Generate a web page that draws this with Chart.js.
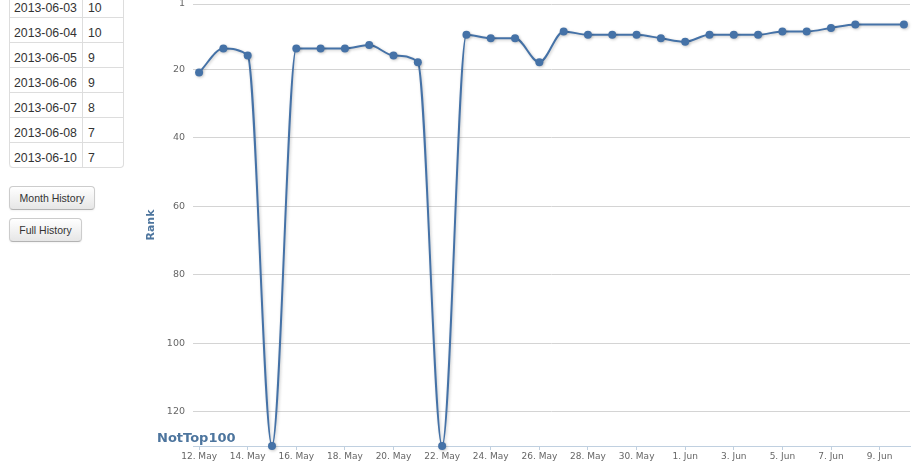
<!DOCTYPE html>
<html>
<head>
<meta charset="utf-8">
<title>Rank History</title>
<script src="https://cdn.jsdelivr.net/npm/chart.js@4.4.1/dist/chart.umd.min.js"></script>
<style>
    html, body { margin: 0; padding: 0; background: #fff; overflow: hidden; }
    body { position: relative; width: 921px; height: 467px; font-family: "Liberation Sans", Arial, sans-serif; color: #333; }

    #historyTable {
        position: absolute; left: 9px; top: -8px;
        border-collapse: separate; border-spacing: 0;
        border: 1px solid #ddd; border-left: 0; border-radius: 0 0 4px 4px;
        font-size: 12.3px;
    }
    #historyTable td {
        border-left: 1px solid #ddd; border-top: 1px solid #ddd;
        padding: 7px 5px 1px 5px; line-height: 16px; white-space: nowrap;
    }
    #historyTable tr:first-child td { border-top: 0; }
    #historyTable td.date { width: 63px; padding-left: 4px; }
    #historyTable td.rank { width: 30px; }
    #historyTable tr:last-child td.date { border-bottom-left-radius: 4px; }

    .btn {
        position: absolute; left: 9px; height: 24px; box-sizing: border-box;
        font-family: "Liberation Sans", Arial, sans-serif; font-size: 10.5px; color: #333;
        text-align: center; line-height: 22px; padding: 0;
        background: linear-gradient(#ffffff, #e6e6e6);
        border: 1px solid #cccccc; border-bottom-color: #b3b3b3; border-radius: 4px;
        box-shadow: inset 0 1px 0 rgba(255,255,255,.2), 0 1px 2px rgba(0,0,0,.05);
    }
    #monthBtn { top: 186px; width: 86px; }
    #fullBtn { top: 218px; width: 73px; }

    #chartWrap { position: absolute; left: 140px; top: 0; width: 781px; height: 467px; }
</style>
</head>
<body>

<table id="historyTable"><tbody id="historyRows"></tbody></table>
<button class="btn" id="monthBtn">Month History</button>
<button class="btn" id="fullBtn">Full History</button>

<div id="chartWrap"><canvas id="rankChart"></canvas></div>

<script>
// Rank history - daily chart position, NOT_TOP stands for "not in top 100"
const NOT_TOP = 130;

const dates = [
    '2013-05-12', '2013-05-13', '2013-05-14', '2013-05-15', '2013-05-16',
    '2013-05-17', '2013-05-18', '2013-05-19', '2013-05-20', '2013-05-21',
    '2013-05-22', '2013-05-23', '2013-05-24', '2013-05-25', '2013-05-26',
    '2013-05-27', '2013-05-28', '2013-05-29', '2013-05-30', '2013-05-31',
    '2013-06-01', '2013-06-02', '2013-06-03', '2013-06-04', '2013-06-05',
    '2013-06-06', '2013-06-07', '2013-06-08', '2013-06-10'
];
const ranks = [
    21, 14, 16, NOT_TOP, 14,
    14, 14, 13, 16, 18,
    NOT_TOP, 10, 11, 11, 18,
    9, 10, 10, 10, 11,
    12, 10, 10, 10, 9,
    9, 8, 7, 7
];

const rankTicks = [1, 20, 40, 60, 80, 100, 120];
const dayTickDates = [
    '2013-05-12', '2013-05-14', '2013-05-16', '2013-05-18', '2013-05-20',
    '2013-05-22', '2013-05-24', '2013-05-26', '2013-05-28', '2013-05-30',
    '2013-06-01', '2013-06-03', '2013-06-05', '2013-06-07', '2013-06-09'
];
const dayTickLabels = [
    '12. May', '14. May', '16. May', '18. May', '20. May',
    '22. May', '24. May', '26. May', '28. May', '30. May',
    '1. Jun', '3. Jun', '5. Jun', '7. Jun', '9. Jun'
];

const TABLE_ROWS = 7;
const AXIS_FONT = "'DejaVu Sans', Verdana, sans-serif";

document.addEventListener('DOMContentLoaded', function() {
    renderHistoryTable();
    renderRankChart();
});

/**
 * Days since the first date in the series
 */
function dayOf(d) {
    return (Date.parse(d) - Date.parse(dates[0])) / 86400000;
}

/**
 * Fill the side table with the latest entries
 */
function renderHistoryTable() {
    const body = document.getElementById('historyRows');
    const start = dates.length - TABLE_ROWS;
    for (let i = start; i < dates.length; i++) {
        const tr = document.createElement('tr');
        tr.innerHTML = `<td class="date">${dates[i]}</td><td class="rank">${ranks[i]}</td>`;
        body.appendChild(tr);
    }
}

// soft shadow under the line, like the original
const lineShadow = {
    id: 'lineShadow',
    beforeDatasetDraw(chart) {
        const ctx = chart.ctx;
        ctx.save();
        ctx.shadowColor = 'rgba(0, 0, 0, 0.22)';
        ctx.shadowBlur = 3;
        ctx.shadowOffsetX = 1;
        ctx.shadowOffsetY = 1;
    },
    afterDatasetDraw(chart) {
        chart.ctx.restore();
    }
};

// "NotTop100" caption at the bottom of the rank axis
const notTopLabel = {
    id: 'notTopLabel',
    afterDraw(chart) {
        const { ctx, chartArea, scales } = chart;
        ctx.save();
        ctx.font = "bold 13px " + AXIS_FONT;
        ctx.fillStyle = '#4d759e';
        ctx.textBaseline = 'alphabetic';
        ctx.fillText('NotTop100', chartArea.left - 36, scales.y.getPixelForValue(NOT_TOP) - 4);
        ctx.restore();
    }
};

/**
 * Render rank line chart (reversed y axis)
 */
function renderRankChart() {
    const canvas = document.getElementById('rankChart');
    if (!canvas) return;

    const points = dates.map((d, i) => ({ x: dayOf(d), y: ranks[i] }));

    new Chart(canvas.getContext('2d'), {
        type: 'line',
        data: {
            datasets: [{
                label: 'Rank',
                data: points,
                borderColor: '#4572a7',
                borderWidth: 2,
                backgroundColor: '#4572a7',
                pointBackgroundColor: '#4572a7',
                pointBorderWidth: 0,
                pointRadius: 4,
                tension: 0.4,
                cubicInterpolationMode: 'monotone',
                clip: false
            }]
        },
        options: {
            responsive: true,
            maintainAspectRatio: false,
            animation: false,
            events: [],
            layout: { padding: { top: 3, right: 11, left: 0, bottom: 0 } },
            plugins: {
                legend: { display: false },
                tooltip: { enabled: false }
            },
            scales: {
                x: {
                    type: 'linear',
                    min: -0.25,
                    max: dayOf(dates[dates.length - 1]) + 0.25,
                    afterBuildTicks: s => { s.ticks = dayTickDates.map(d => ({ value: dayOf(d) })); },
                    afterFit: s => { s.height = 21; },
                    grid: { drawOnChartArea: false, drawTicks: true, tickLength: 4, color: '#c0d0e0' },
                    border: { color: '#c0d0e0', width: 1 },
                    ticks: {
                        autoSkip: false,
                        maxRotation: 0,
                        padding: 1,
                        color: '#666',
                        font: { family: AXIS_FONT, size: 9 },
                        callback: (v, i) => dayTickLabels[i]
                    }
                },
                y: {
                    type: 'linear',
                    reverse: true,
                    min: 1,
                    max: NOT_TOP,
                    afterBuildTicks: s => { s.ticks = rankTicks.map(v => ({ value: v })); },
                    afterFit: s => { s.width = 53; s.paddingTop = 0; s.paddingBottom = 0; },
                    grid: { color: '#d4d4d4', drawTicks: false },
                    border: { display: false },
                    ticks: {
                        padding: 8,
                        color: '#666',
                        font: { family: AXIS_FONT, size: 9.5 }
                    },
                    title: {
                        display: true,
                        text: 'Rank',
                        color: '#4d759e',
                        font: { family: AXIS_FONT, size: 11, weight: 'bold' },
                        padding: { top: 5, bottom: 0 }
                    }
                }
            }
        },
        plugins: [lineShadow, notTopLabel]
    });
}
</script>
</body>
</html>
